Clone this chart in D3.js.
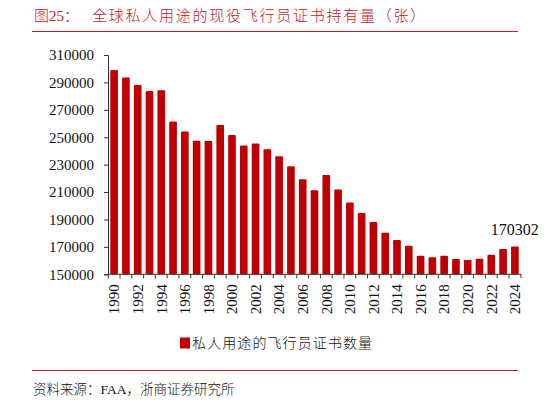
<!DOCTYPE html>
<html>
<head>
<meta charset="utf-8">
<script src="https://cdn.jsdelivr.net/npm/d3@7"></script>
<style>
  html, body { margin: 0; padding: 0; background: #fff; }
  svg { display: block; }
</style>
</head>
<body>
<svg id="chart" width="548" height="402"></svg>
<script>
const years = ["1990","1991","1992","1993","1994","1995","1996","1997","1998","1999",
  "2000","2001","2002","2003","2004","2005","2006","2007","2008","2009",
  "2010","2011","2012","2013","2014","2015","2016","2017","2018","2019",
  "2020","2021","2022","2023","2024"];
const pilots = [299100, 293500, 288200, 283800, 284200, 261400, 254100, 247500, 247300, 259000,
  251700, 243900, 245500, 241200, 236100, 228800, 219300, 211300, 222500, 211800,
  202300, 194800, 188200, 180400, 175100, 170900, 163600, 162400, 163600, 161200,
  160500, 161400, 164300, 168500, 170302];
const yTicks = [150000, 170000, 190000, 210000, 230000, 250000, 270000, 290000, 310000];
const xLabelYears = years.filter((d, i) => i % 2 === 0);
const titlePrefix = "图25：";
const titleText = "全球私人用途的现役飞行员证书持有量（张）";
const legendText = "私人用途的飞行员证书数量";
const sourceText = "资料来源：FAA，浙商证券研究所";
const annotatedYear = "2024";

const red = "#c00000";
const titleRed = "#c0202a";
const serif = "'Liberation Serif', 'Times New Roman', 'Noto Sans CJK SC', serif";

const svg = d3.select("#chart");

const x = d3.scaleBand().domain(years).range([108, 521]).paddingInner(0.35).paddingOuter(0.195);
const y = d3.scaleLinear().domain([150000, 310000]).range([274.3, 55]);

// Title
svg.append("text").attr("x", 34).attr("y", 20.5)
  .attr("font-family", serif).attr("font-size", 15).attr("font-weight", 300).attr("fill", titleRed)
  .text(titlePrefix);
svg.append("text").attr("x", 92).attr("y", 20.5)
  .attr("font-family", serif).attr("font-size", 15).attr("font-weight", 300)
  .attr("letter-spacing", "1.75px").attr("fill", titleRed)
  .text(titleText);
svg.append("line").attr("x1", 32).attr("x2", 518).attr("y1", 31.5).attr("y2", 31.5)
  .attr("stroke", titleRed).attr("stroke-width", 1);

// Bars
svg.append("g").selectAll("rect").data(years).join("rect")
  .attr("x", d => x(d))
  .attr("y", (d, i) => y(pilots[i]))
  .attr("width", x.bandwidth())
  .attr("height", (d, i) => y(150000) - y(pilots[i]))
  .attr("rx", 1)
  .attr("fill", red);

// Y axis
const yAxis = svg.append("g").attr("transform", "translate(108,0)")
  .call(d3.axisLeft(y).tickValues(yTicks).tickFormat(d3.format("d")).tickSize(4).tickPadding(10));
yAxis.select(".domain").attr("stroke", "#333");
yAxis.selectAll(".tick line").attr("stroke", "#333");
yAxis.selectAll("text").attr("font-family", serif).attr("font-size", 15).attr("fill", "#111");

// X axis (ticks at band boundaries)
const xg = svg.append("g");
xg.append("line").attr("x1", 108).attr("x2", 521).attr("y1", y(150000)).attr("y2", y(150000))
  .attr("stroke", "#333").attr("stroke-width", 1);
const boundaries = years.map(d => x(d) - x.step() * x.paddingInner() / 2).concat([521]);
xg.selectAll("line.tk").data(boundaries).join("line").attr("class", "tk")
  .attr("x1", d => d).attr("x2", d => d)
  .attr("y1", y(150000)).attr("y2", y(150000) + 4)
  .attr("stroke", "#333");
xg.selectAll("text").data(xLabelYears).join("text")
  .attr("transform", d => `translate(${x(d) + x.bandwidth() / 2},${y(150000) + 10}) rotate(-90)`)
  .attr("text-anchor", "end").attr("dy", "0.35em")
  .attr("font-family", serif).attr("font-size", 15).attr("fill", "#111")
  .text(d => d);

// Annotation
const ai = years.indexOf(annotatedYear);
svg.append("text")
  .attr("x", x(annotatedYear) + x.bandwidth() / 2)
  .attr("y", y(pilots[ai]) - 11)
  .attr("text-anchor", "middle")
  .attr("font-family", serif).attr("font-size", 16).attr("fill", "#111")
  .text(d3.format("d")(pilots[ai]));

// Legend
svg.append("rect").attr("x", 180).attr("y", 337.5).attr("width", 10).attr("height", 11).attr("fill", red);
svg.append("text").attr("x", 192).attr("y", 348)
  .attr("font-family", serif).attr("font-size", 14).attr("font-weight", 300)
  .attr("letter-spacing", "1.1px").attr("fill", "#111")
  .text(legendText);

// Bottom rule & source
svg.append("line").attr("x1", 32).attr("x2", 518).attr("y1", 370.5).attr("y2", 370.5)
  .attr("stroke", titleRed).attr("stroke-width", 1);
svg.append("text").attr("x", 33).attr("y", 394)
  .attr("font-family", serif).attr("font-size", 13.5).attr("font-weight", 300).attr("fill", "#111")
  .text(sourceText);
</script>
</body>
</html>
